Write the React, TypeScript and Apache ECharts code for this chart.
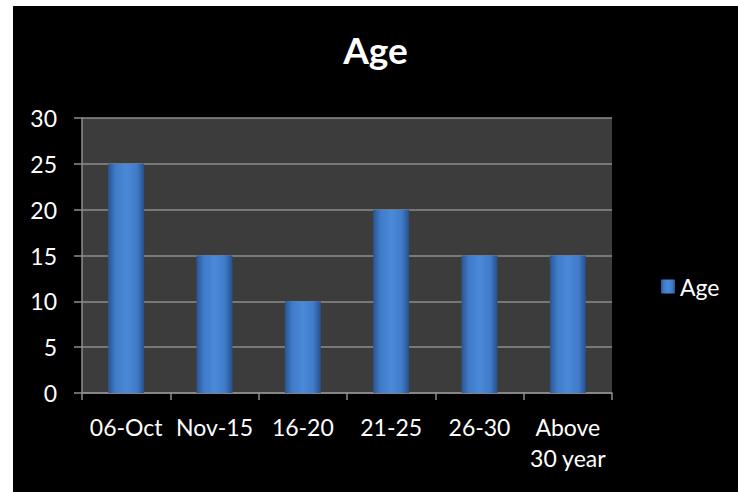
import React, { useEffect, useRef } from "react";
import * as echarts from "echarts";

const categories = ["06-Oct", "Nov-15", "16-20", "21-25", "26-30", "Above\n30 year"];
const ageValues = [25, 15, 10, 20, 15, 15];
const seriesName = "Age";
const chartTitle = "Age";

export default function App() {
  const ref = useRef<HTMLDivElement>(null);
  useEffect(() => {
    if (!ref.current) return;
    const chart = echarts.init(ref.current, undefined, { renderer: "svg" });
    const font = "Lato, 'Open Sans', sans-serif";
    chart.setOption({
      animation: false,
      backgroundColor: "#000000",
      title: {
        text: chartTitle,
        left: "center",
        top: 20,
        textStyle: { color: "#ffffff", fontSize: 37, fontWeight: "bold", fontFamily: font },
      },
      legend: {
        data: [seriesName],
        left: 643,
        top: 264,
        icon: "rect",
        itemWidth: 14,
        itemHeight: 14,
        itemGap: 8,
        textStyle: { color: "#ffffff", fontSize: 23, fontFamily: font },
      },
      grid: {
        left: 69,
        top: 112,
        right: 126,
        bottom: 99,
        show: true,
        backgroundColor: "#3c3c3c",
        borderWidth: 0,
      },
      xAxis: {
        type: "category",
        data: categories,
        axisLine: { show: true, lineStyle: { color: "#8c8c8c", width: 1.5 } },
        axisTick: { show: true, length: 7, lineStyle: { color: "#8c8c8c", width: 1.5 } },
        axisLabel: {
          color: "#ffffff",
          fontSize: 23,
          fontFamily: font,
          margin: 18,
          lineHeight: 31,
          interval: 0,
        },
      },
      yAxis: {
        type: "value",
        min: 0,
        max: 30,
        interval: 5,
        axisLine: { show: true, lineStyle: { color: "#8c8c8c", width: 1.5 } },
        axisTick: { show: true, length: 8, lineStyle: { color: "#8c8c8c", width: 1.5 } },
        splitLine: { show: true, lineStyle: { color: "#8c8c8c", width: 1.5 } },
        axisLabel: { color: "#ffffff", fontSize: 23, fontFamily: font, margin: 25 },
      },
      series: [
        {
          name: seriesName,
          type: "bar",
          data: ageValues,
          barWidth: 36,
          itemStyle: {
            color: new echarts.graphic.LinearGradient(0, 0, 1, 0, [
              { offset: 0, color: "#2a5590" },
              { offset: 0.2, color: "#3f7bc9" },
              { offset: 0.5, color: "#4a8ad8" },
              { offset: 0.8, color: "#3f7bc9" },
              { offset: 1, color: "#284f88" },
            ]),
          },
        },
      ],
    });
    return () => chart.dispose();
  }, []);
  return (
    <div style={{ position: "fixed", left: 0, top: 0, width: 738, height: 492, background: "#ffffff" }}>
      <div ref={ref} style={{ position: "absolute", left: 13, top: 6, width: 725, height: 486 }} />
    </div>
  );
}
